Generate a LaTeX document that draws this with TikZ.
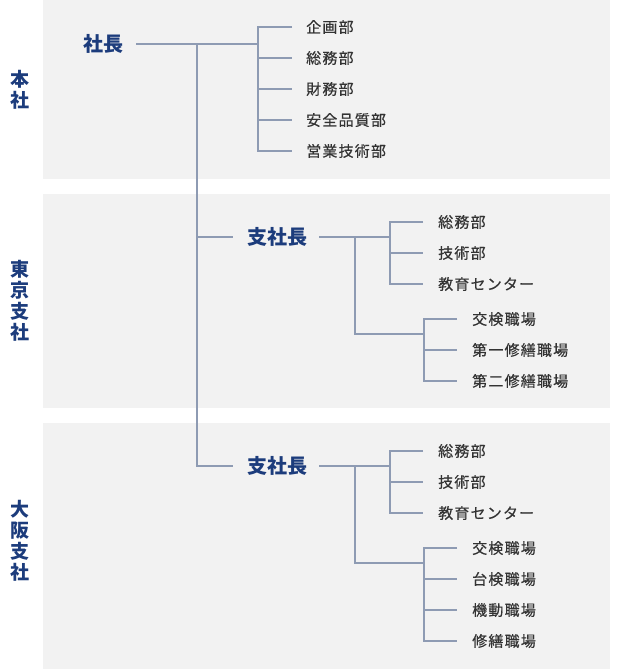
\documentclass[tikz,border=0pt]{standalone}
\usepackage{fontspec}
\newfontfamily\jp{Noto Sans CJK JP}
\newfontfamily\jpm[FakeBold=0.5,LetterSpace=8]{Noto Sans CJK JP}
\definecolor{panel}{HTML}{F2F2F2}
\definecolor{conn}{HTML}{8E9BB3}
\definecolor{navy}{HTML}{1C3C7C}
\definecolor{txt}{HTML}{333333}
\begin{document}
\begin{tikzpicture}[x=1pt,y=-1pt,
  line/.style={draw=conn,line width=1.8pt,line join=miter},
  unit/.style={anchor=west,inner sep=0pt,text=txt,font=\jpm\fontsize{15}{15}\selectfont,text height=13.2pt,text depth=1.8pt},
  boss/.style={anchor=west,inner sep=0pt,text=navy,font=\jp\bfseries\fontsize{20}{20}\selectfont,text height=17.6pt,text depth=2.4pt},
  region/.style={inner sep=0pt,align=center,text=navy,font=\jp\bfseries\fontsize{19}{21}\selectfont}]
\useasboundingbox (0,0) rectangle (620,669);
\fill[panel] (43,0) rectangle (610,179);
\fill[panel] (43,194) rectangle (610,408);
\fill[panel] (43,423) rectangle (610,669);
% region labels
\node[region] (r1) at (20,90) {本\\社};
\node[region] (r2) at (20,301) {東\\京\\支\\社};
\node[region] (r3) at (20,541) {大\\阪\\支\\社};
% head office
\node[boss] (hq) at (83,44) {社長};
\node[unit] (h1) at (306,27) {企画部};
\node[unit] (h2) at (306,58) {総務部};
\node[unit] (h3) at (306,89) {財務部};
\node[unit] (h4) at (306,120) {安全品質部};
\node[unit] (h5) at (306,151) {営業技術部};
\coordinate (hbx) at (258,0);
\draw[line] ([xshift=13pt]hq.east) -- (hbx |- hq.east);
\draw[line] ([xshift=-14pt]h1.west) -- (hbx |- h1.west) -- (hbx |- h5.west) -- ([xshift=-14pt]h5.west);
\foreach \n in {h2,h3,h4} \draw[line] (hbx |- \n.west) -- ([xshift=-14pt]\n.west);
% Tokyo
\node[boss] (tk) at (247,237) {支社長};
\node[unit] (t1) at (438,222) {総務部};
\node[unit] (t2) at (438,253) {技術部};
\node[unit] (t3) at (438,284) {教育センター};
\node[unit] (t4) at (472,319) {交検職場};
\node[unit] (t5) at (472,350) {第一修繕職場};
\node[unit] (t6) at (472,381) {第二修繕職場};
\coordinate (tax) at (355,0);
\coordinate (tbx) at (390,0);
\coordinate (tcx) at (424,0);
\coordinate (tl) at (355,334);
\draw[line] ([xshift=12pt]tk.east) -- (tbx |- tk.east);
\draw[line] (tax |- tk.east) -- (tl) -- (tcx |- tl);
\draw[line] ([xshift=-15pt]t1.west) -- (tbx |- t1.west) -- (tbx |- t3.west) -- ([xshift=-15pt]t3.west);
\draw[line] (tbx |- t2.west) -- ([xshift=-15pt]t2.west);
\draw[line] ([xshift=-15pt]t4.west) -- (tcx |- t4.west) -- (tcx |- t6.west) -- ([xshift=-15pt]t6.west);
\draw[line] (tcx |- t5.west) -- ([xshift=-15pt]t5.west);
% Osaka
\node[boss] (os) at (247,466) {支社長};
\node[unit] (o1) at (438,451) {総務部};
\node[unit] (o2) at (438,482) {技術部};
\node[unit] (o3) at (438,513) {教育センター};
\node[unit] (o4) at (472,548) {交検職場};
\node[unit] (o5) at (472,579) {台検職場};
\node[unit] (o6) at (472,610) {機動職場};
\node[unit] (o7) at (472,641) {修繕職場};
\coordinate (ol) at (355,563);
\draw[line] ([xshift=12pt]os.east) -- (tbx |- os.east);
\draw[line] (tax |- os.east) -- (ol) -- (tcx |- ol);
\draw[line] ([xshift=-15pt]o1.west) -- (tbx |- o1.west) -- (tbx |- o3.west) -- ([xshift=-15pt]o3.west);
\draw[line] (tbx |- o2.west) -- ([xshift=-15pt]o2.west);
\draw[line] ([xshift=-15pt]o4.west) -- (tcx |- o4.west) -- (tcx |- o7.west) -- ([xshift=-15pt]o7.west);
\foreach \n in {o5,o6} \draw[line] (tcx |- \n.west) -- ([xshift=-15pt]\n.west);
% trunk
\coordinate (tx) at (197,0);
\draw[line] (tx |- hq.east) -- (tx |- os.west) -- ([xshift=-14pt]os.west);
\draw[line] (tx |- tk.west) -- ([xshift=-14pt]tk.west);
\end{tikzpicture}
\end{document}
